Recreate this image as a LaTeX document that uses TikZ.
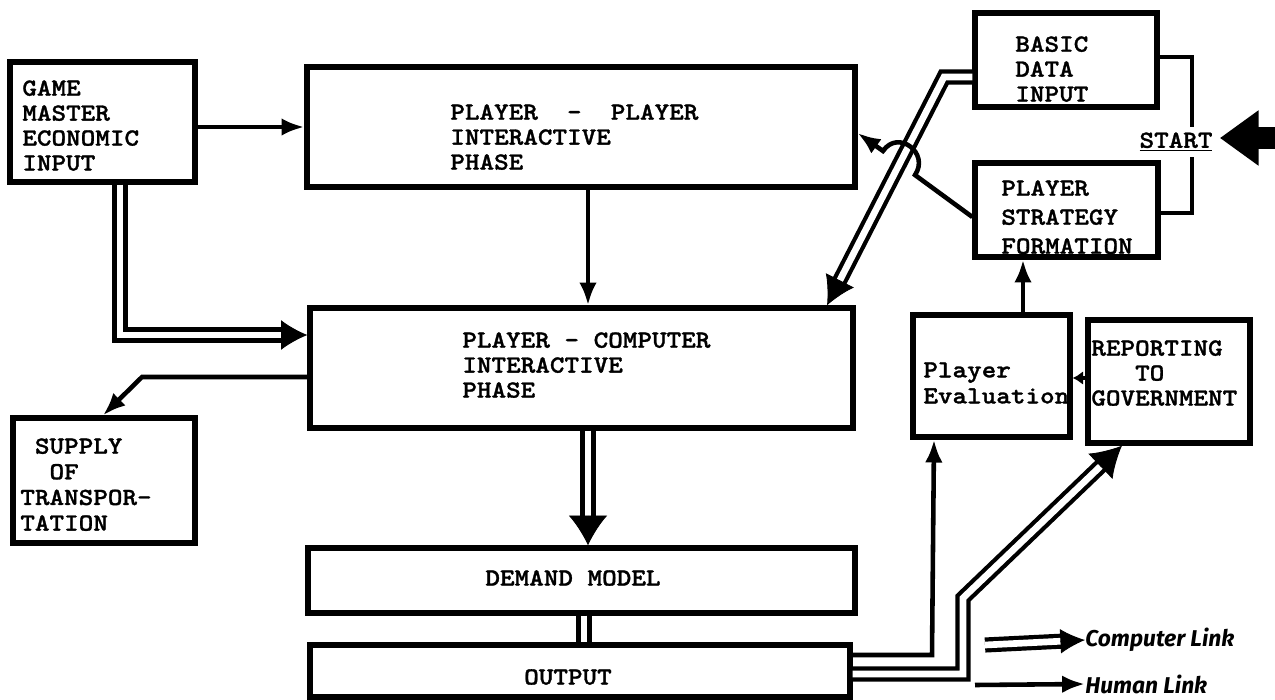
\documentclass[tikz,border=0pt]{standalone}
\usepackage{fontspec}
\newfontfamily\handfont{Fira Sans}
\newfontfamily\tw{lmmonolt10-bold.otf}[FakeStretch=1.13, FakeBold=1.2]
\usetikzlibrary{arrows.meta,calc,fit}
\begin{document}
\begin{tikzpicture}[x=0.02cm,y=-0.02cm,
  box/.style={draw, line width=3pt, inner sep=0pt},
  txt/.style={inner sep=0pt, align=left, anchor=north west, font=\tw\fontsize{14pt}{#1}\selectfont},
  txt/.default={14.2pt},
  ctxt/.style={inner sep=0pt, font=\tw\fontsize{14pt}{14pt}\selectfont},
  hand/.style={inner sep=0pt, anchor=west, font=\handfont\bfseries\itshape\fontsize{13pt}{14pt}\selectfont},
  hlplain/.style={line width=2.6pt},
  hl/.style={line width=2.6pt, -{Latex[length=13pt,width=10pt]}},
  cl/.style={line width=2.4pt, double=white, double distance=3.8pt},
  cltip/.style 2 args={line width=0.5pt, -{Latex[length=#1,width=#2]}},
  bigarrow/.style={line width=13pt, -{Triangle[length=22pt,width=30pt]}}
]
\fill[white] (0,0) rectangle (1275,700);
\useasboundingbox (0,0) rectangle (1275,700);

% boxes
\node[box, fit={(10,62)(195,182)}] (gm) {};
\node[box, fit={(307,67)(855,187)}] (pp) {};
\node[box, fit={(310,308)(853,428)}] (pc) {};
\node[box, fit={(13,418)(195,543)}] (sup) {};
\node[box, fit={(308,548)(855,613)}] (dem) {};
\node[box, fit={(310,645)(850,697)}] (out) {};
\node[box, fit={(975,13)(1157,107)}] (bdi) {};
\node[box, fit={(975,163)(1158,257)}] (psf) {};
\node[box, fit={(913,315)(1070,437)}] (pe) {};
\node[box, fit={(1088,320)(1250,443)}] (rep) {};

% texts
\node[txt] (gmt) at (22,80) {GAME\\MASTER\\ECONOMIC\\INPUT};
\node[txt] (ppt) at (450,104) {PLAYER\ \ -\ \ PLAYER\\INTERACTIVE\\PHASE};
\node[txt] (pct) at (462,332) {PLAYER - COMPUTER\\INTERACTIVE\\PHASE};
\node[txt=14.6pt] (supt) at (20,438) {\phantom{X}SUPPLY\\\phantom{XX}OF\\TRANSPOR-\\TATION};
\node[ctxt] (demt) at (573,578) {DEMAND MODEL};
\node[ctxt] (outt) at (568,677) {OUTPUT};
\node[txt] (bdit) at (1015,36) {BASIC\\DATA\\INPUT};
\node[txt=16.5pt] (psft) at (1001,180) {PLAYER\\STRATEGY\\FORMATION};
\node[txt=14.8pt] (pet) at (923,362) {Player\\Evaluation};
\node[txt] (rept) at (1091,340) {REPORTING\\\phantom{XXX}TO\\GOVERNMENT};
\node[ctxt, minimum height=0.6cm] (start) at (1176,142) {\underline{START}};
\node[hand] (clt) at (1085,640) {Computer Link};
\node[hand] (hlt) at (1085,684) {Human Link};

% computer links (double lines)
\draw[cl, shorten >=13pt] (gm.south -| 120,0) |- (pc.west |- 0,335);
\draw[cltip={15pt}{17pt}] ($(pc.west |- 0,335)+(-15pt,0)$) -- (pc.west |- 0,335);

\draw[cl, shorten >=15pt] (pc.south -| 588,0) -- (dem.north -| 588,0);
\draw[cltip={17pt}{22pt}] ($(dem.north -| 588,0)+(0,17pt)$) -- (dem.north -| 588,0);

\draw[cl] (dem.south -| 584,0) -- (out.north -| 584,0);

\draw[cl, shorten >=15pt] (bdi.west |- 0,77) -- (944,77) -- (pc.north -| 827,0);
\draw[cltip={16pt}{18pt}] ($(pc.north -| 827,0)!16pt!(944,77)$) -- (pc.north -| 827,0);

\draw[cl, shorten >=16pt] (out.east |- 0,674) -- (963,674) -- (963,598) -- (rep.south -| 1122,0);
\draw[cltip={17pt}{20pt}] ($(rep.south -| 1122,0)!17pt!(963,598)$) -- (rep.south -| 1122,0);

% human links
\draw[hl] (gm.east |- 0,127) -- (pp.west |- 0,127);
\draw[hl] (pp.south -| 588,0) -- (pc.north -| 588,0);
\draw[hl] (pc.west |- 0,377) -- (142,377) -- (sup.north -| 103,0);
\draw[hl] (out.east |- 0,655) -- (932,655) -- (pe.south -| 934,0);
\draw[hl] (pe.north -| 1023,0) -- (psf.south -| 1023,0);
\draw[line width=2.6pt, -{Latex[length=6pt,width=8pt]}] (rep.west |- 0,378) -- (pe.east |- 0,378);
\draw[hl] (psf.west |- 0,217) -- (915,175) .. controls (930,153) and (898,129) .. (883,151) -- (pp.east |- 0,133);
\draw[hlplain] (bdi.east |- 0,57) -| (start.north -| 1192,0);
\draw[hlplain] (psf.east |- 0,213) -| (start.south -| 1192,0);

% start arrow
\coordinate (edge) at (1275,138);
\draw[bigarrow, shorten >=4pt] (edge) -- (start.east |- edge);

% legend
\coordinate (cl1) at (985,645);
\draw[cl, shorten >=12pt] (cl1) -- (clt.west);
\draw[cltip={14pt}{14pt}] ($(clt.west)!14pt!(cl1)$) -- (clt.west);
\coordinate (hl1) at (975,685);
\draw[hl] (hl1) -- (hlt.west);
\end{tikzpicture}
\end{document}
